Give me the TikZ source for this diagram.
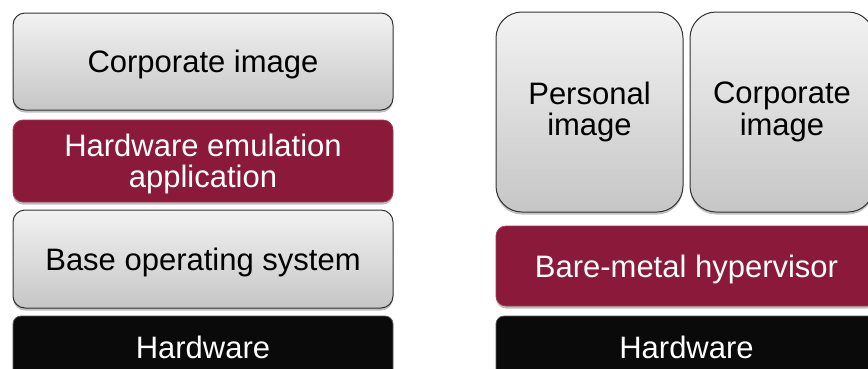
\documentclass[tikz,border=0pt]{standalone}
\usepackage{fontspec}
\setmainfont{Liberation Sans}
\usetikzlibrary{shadows}
\definecolor{wine}{HTML}{8B1A3A}
\definecolor{panelTop}{HTML}{F2F2F2}
\definecolor{panelBot}{HTML}{C6C6C6}
\begin{document}
\begin{tikzpicture}[x=1pt,y=-1pt,
  layer/.style={inner sep=0pt, align=center, font=\fontsize{31}{31.5}\selectfont},
  lowtext/.style={text depth=0pt},
  softshadow/.style={drop shadow={shadow xshift=0pt, shadow yshift=-2.5pt, opacity=0.25, fill=black}},
  graybox/.style={layer, softshadow, draw=black!80, line width=1pt,
    top color=panelTop, bottom color=panelBot, rounded corners=12pt, text=black},
  tallbox/.style={graybox, rounded corners=26pt},
  winebox/.style={layer, softshadow, fill=wine, draw=wine!85!white, line width=0.8pt,
    rounded corners=10pt, text=white},
  hwbox/.style={layer, fill=black!96, draw=black!65, line width=0.8pt,
    rounded corners=8pt, text=white}]
\useasboundingbox (0,0) rectangle (868,368);

% hosted virtualisation stack
\node[graybox, lowtext, minimum width=380pt, minimum height=97pt] (corpL) at (203,61.5) {Corporate image};
\node[winebox, lowtext, minimum width=380pt, minimum height=82pt] (emu) at (203,161) {Hardware emulation\\application};
\node[graybox, lowtext, minimum width=380pt, minimum height=98pt] (baseos) at (203,259) {Base operating system};
\node[hwbox, minimum width=380pt, minimum height=62pt] (hwL) at (203,347) {Hardware};

% bare-metal virtualisation stack
\node[tallbox, minimum width=187pt, minimum height=200pt] (pers) at (589.5,112) {Personal\\image};
\node[tallbox, minimum width=184pt, minimum height=200pt] (corpR) at (782,112) {Corporate\\image};
\node[winebox, lowtext, minimum width=381pt, minimum height=80pt] (hyp) at (686.5,266) {Bare-metal hypervisor};
\node[hwbox, minimum width=381pt, minimum height=62pt] (hwR) at (686.5,347) {Hardware};
\end{tikzpicture}
\end{document}
